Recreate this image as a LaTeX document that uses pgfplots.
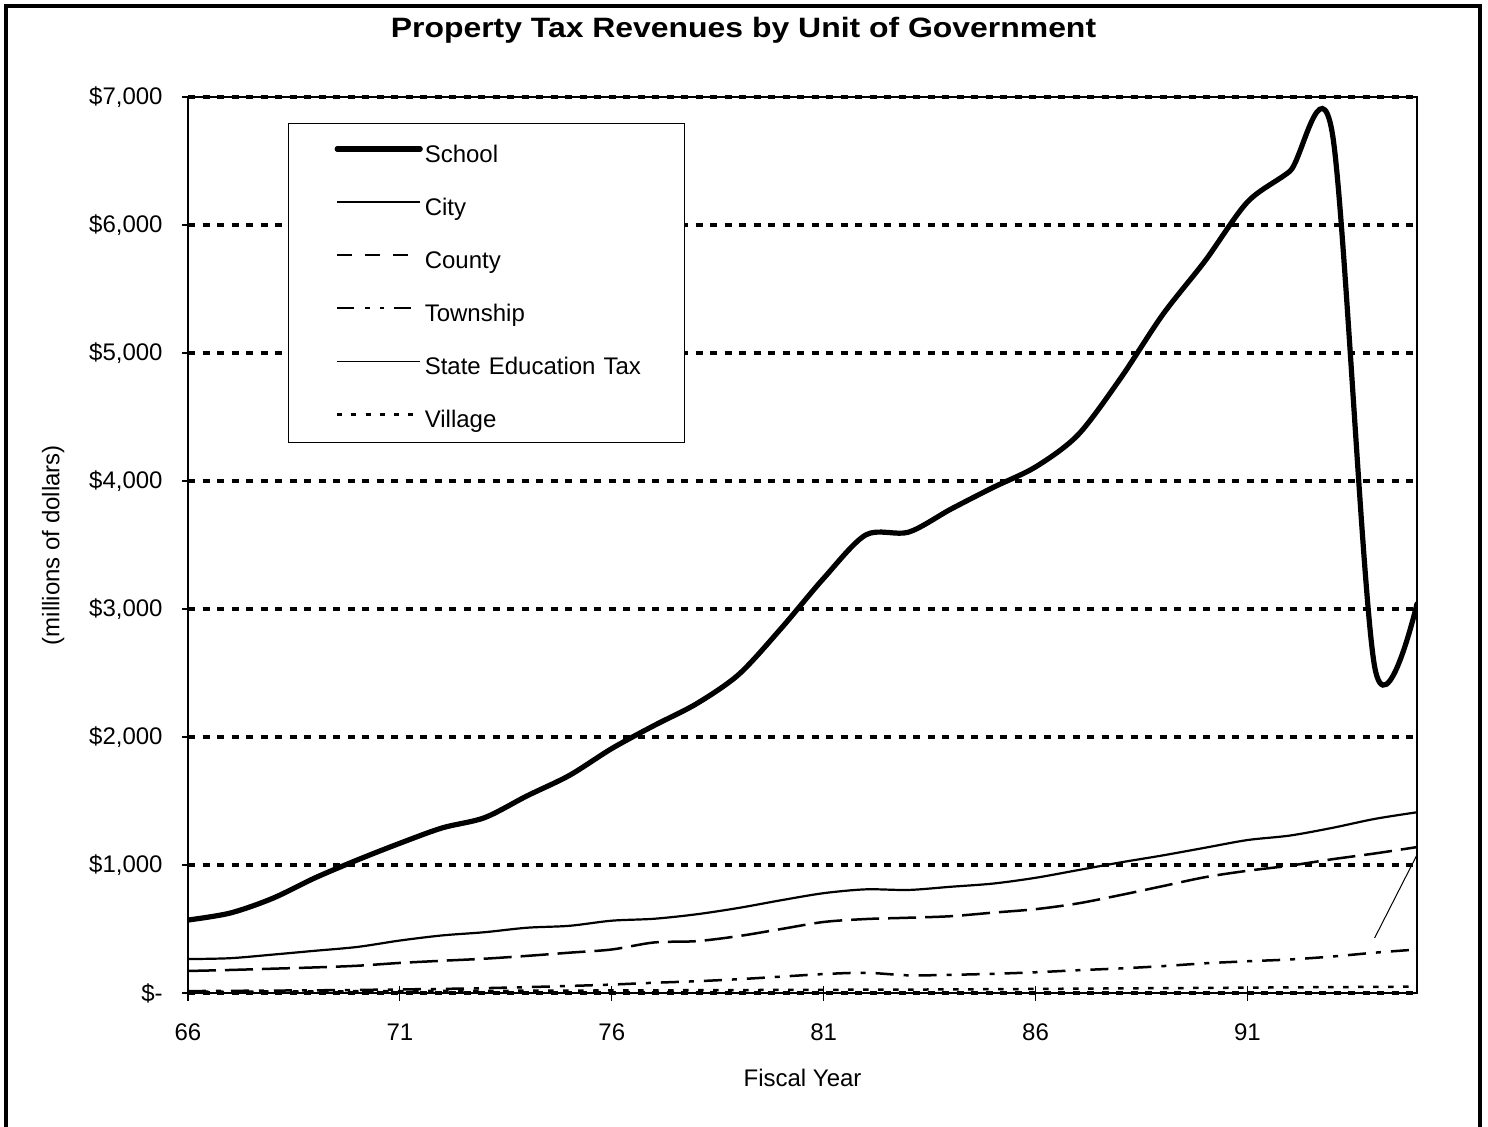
\documentclass[border=0pt]{standalone}
\usepackage{pgfplots}
\usepackage{pgfplotstable}
\pgfplotsset{compat=1.18}
\usepackage{fontspec}
\setmainfont{Liberation Sans}
\usepackage{graphicx}

\pgfplotstableread{
yr school city county township village
66 570 265 172 15 10
67 625 272 180 17 11
68 740 300 190 19 12
69 900 330 200 21 13
70 1040 360 213 24 14
71 1170 410 235 28 15
72 1290 450 252 32 16
73 1370 475 268 38 17
74 1540 510 290 46 18
75 1700 525 315 55 19
76 1910 565 340 66 20
77 2090 580 395 80 21
78 2260 615 405 92 22
79 2490 665 445 108 23
80 2850 725 500 128 24
81 3240 780 555 148 25
82 3580 810 578 158 26
83 3600 805 588 138 27
84 3780 830 600 142 28
85 3950 855 628 150 30
86 4110 900 655 162 32
87 4360 960 700 178 34
88 4800 1020 765 192 36
89 5300 1075 835 210 38
90 5720 1135 905 232 40
91 6180 1195 955 248 42
92 6420 1230 995 262 44
93 6720 1290 1045 285 46
94 2550 1360 1090 315 48
95 3040 1412 1140 340 50
}\datatable

\pgfplotstableread{
yr set
94 430
95 1080
}\settable

\begin{document}
\begin{tikzpicture}[font=\fontsize{12}{14}\selectfont]
\useasboundingbox (0pt,0pt) rectangle (744pt,563pt);
\draw[line width=2pt] (3pt,-5pt) -- (3pt,560pt) -- (739.8pt,560pt) -- (739.8pt,-5pt);
\node[anchor=base, font=\fontsize{14}{16}\selectfont\bfseries] at (371.75pt,544.35pt)
  {\scalebox{1.14}[1]{Property Tax Revenues by Unit of Government}};
\begin{axis}[
  at={(94pt,66.5pt)}, anchor=south west,
  width=614.5pt, height=448pt, scale only axis,
  xmin=66, xmax=95, ymin=0, ymax=7000,
  xtick={66,71,76,81,86,91},
  xticklabels={66,71,76,81,86,91},
  ytick={0,1000,...,7000},
  yticklabels={{\$-},{\$1,000},{\$2,000},{\$3,000},{\$4,000},{\$5,000},{\$6,000},{\$7,000}},
  tick pos=left,
  major tick length=7.5pt,
  xtick align=center,
  ytick align=outside,
  ytick style={/pgfplots/major tick length=3pt},
  tick style={black, line width=0.6pt},
  xticklabel style={inner sep=0pt, anchor=north, yshift=-11.5pt},
  yticklabel style={inner sep=0pt, anchor=east, xshift=-5pt},
  tick label style={font=\fontsize{12}{14}\selectfont},
  axis line style={black, line width=0.75pt},
  ymajorgrids,
  major grid style={black, line width=1.6pt, dash pattern=on 3.5pt off 3.75pt},
  xlabel={Fiscal Year},
  ylabel={(millions of dollars)},
  xlabel style={at={(axis description cs:0.5,-0.0952)}, anchor=center, inner sep=0pt},
  ylabel style={at={(axis description cs:-0.1098,0.5)}, anchor=center, inner sep=0pt},
  legend cell align=left,
  legend style={at={(0.0816,0.9707)}, anchor=north west, draw=black, line width=0.5pt,
    inner sep=0pt, row sep=0pt, column sep=1pt, font=\fontsize{12}{14}\selectfont,
    nodes={inner sep=0pt, anchor=base west, text width=129.85pt, text height=8.6pt, text depth=0pt}},
  legend image code/.code={\path[draw=none,fill=none] (0pt,-7.35pt) rectangle (65.7pt,19.18pt);
    \draw[#1] (24.2pt,6.55pt) -- (65.7pt,6.55pt);},
]
\addplot[black, line width=2.6pt, line cap=round, smooth, tension=0.5,
  legend image code/.code={\path[draw=none,fill=none] (0pt,-7.35pt) rectangle (65.7pt,19.18pt);
    \draw[black, line width=2.6pt, line cap=round] (24.2pt,6.55pt) -- (65.7pt,6.55pt);}]
  table[x=yr,y=school] {\datatable};
\addlegendentry{School}
\addplot[black, line width=1.1pt, smooth, tension=0.5,
  legend image code/.code={\path[draw=none,fill=none] (0pt,-7.35pt) rectangle (65.7pt,19.18pt);
    \draw[black, line width=1.1pt] (24.2pt,6.55pt) -- (65.7pt,6.55pt);}]
  table[x=yr,y=city] {\datatable};
\addlegendentry{City}
\addplot[black, line width=1.25pt, dash pattern=on 14pt off 4.5pt, smooth, tension=0.5,
  legend image code/.code={\path[draw=none,fill=none] (0pt,-7.35pt) rectangle (65.7pt,19.18pt);
    \draw[black, line width=1.25pt, dash pattern=on 7.5pt off 6.5pt] (24.2pt,6.55pt) -- (65.7pt,6.55pt);}]
  table[x=yr,y=county] {\datatable};
\addlegendentry{County}
\addplot[black, line width=1.25pt, dash pattern=on 9pt off 5pt on 2.5pt off 5pt, smooth, tension=0.5,
  legend image code/.code={\path[draw=none,fill=none] (0pt,-7.35pt) rectangle (65.7pt,19.18pt);
    \draw[black, line width=1.25pt, dash pattern=on 8.5pt off 5.5pt on 2.3pt off 5pt on 2.3pt off 5pt] (24.2pt,6.55pt) -- (65.7pt,6.55pt);}]
  table[x=yr,y=township] {\datatable};
\addlegendentry{Township}
\addplot[black, line width=0.5pt,
  legend image code/.code={\path[draw=none,fill=none] (0pt,-7.35pt) rectangle (65.7pt,19.18pt);
    \draw[black, line width=0.5pt] (24.2pt,6.55pt) -- (65.7pt,6.55pt);}]
  table[x=yr,y=set] {\settable};
\addlegendentry{State Education Tax}
\addplot[black, line width=1.25pt, dash pattern=on 2.75pt off 4.75pt, smooth, tension=0.5,
  legend image code/.code={\path[draw=none,fill=none] (0pt,-7.35pt) rectangle (65.7pt,19.18pt);
    \draw[black, line width=1.25pt, dash pattern=on 2.5pt off 4.6pt] (24.2pt,6.55pt) -- (65.7pt,6.55pt);}]
  table[x=yr,y=village] {\datatable};
\addlegendentry{Village}
\draw[black, line width=1.3pt] (rel axis cs:0,1) -- (rel axis cs:0,0) -- (rel axis cs:1,0);
\end{axis}
\end{tikzpicture}
\end{document}
